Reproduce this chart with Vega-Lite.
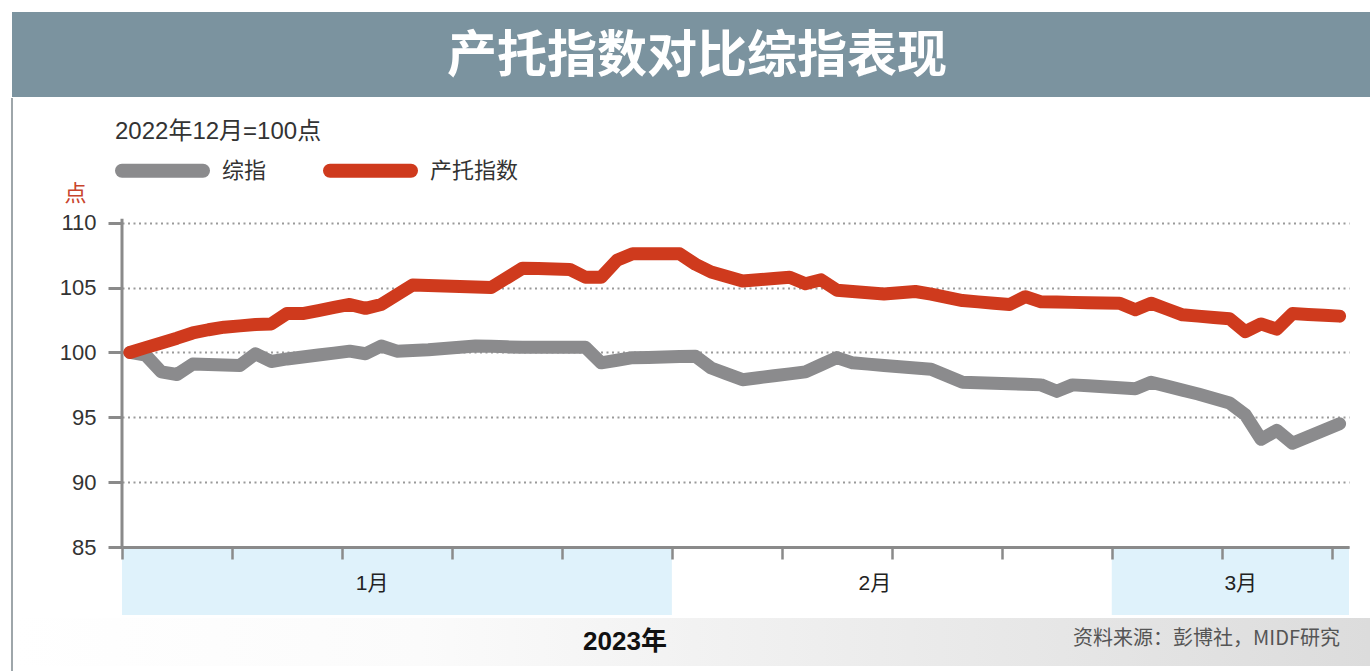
{
  "$schema": "https://vega.github.io/schema/vega-lite/v6.json",
  "padding": {"left": 10, "top": 12, "right": 0, "bottom": 0},
  "spacing": 0,
  "background": "white",
  "resolve": {"legend": {"color": "independent"}},
  "config": {
    "view": {"stroke": null},
    "font": "Liberation Sans, Noto Sans CJK SC, sans-serif",
    "concat": {"spacing": 0}
  },
  "vconcat": [
    {
      "width": 1358,
      "height": 85,
      "view": {"fill": "#7b939f", "stroke": null},
      "data": {"values": [{"title": "产托指数对比综指表现"}]},
      "mark": {"type": "text", "font": "Noto Sans CJK SC", "fontSize": 50, "fontWeight": "bold", "color": "#ffffff", "dx": 6, "dy": 2},
      "encoding": {"text": {"field": "title"}}
    },
    {
      "width": 1358,
      "height": 574,
      "layer": [
        {
          "data": {"values": [{}]},
          "mark": {"type": "rect", "color": {"gradient": "linear", "x1": 0, "x2": 1, "y1": 0, "y2": 0, "stops": [{"offset": 0, "color": "#ffffff"}, {"offset": 0.3, "color": "#fbfbfb"}, {"offset": 1, "color": "#dcdcdc"}]}},
          "encoding": {
            "y": {"datum": 79.528, "type": "quantitative", "scale": {"domain": [75.366, 119.615], "nice": false, "zero": false}},
            "y2": {"datum": 75.829}
          }
        },
        {
          "data": {"values": [
            {"month": "1月", "start": "2022-12-27T12:00:00Z", "end": "2023-01-31T12:00:00Z"},
            {"month": "2月", "start": "2023-01-31T12:00:00Z", "end": "2023-02-28T12:00:00Z"},
            {"month": "3月", "start": "2023-02-28T12:00:00Z", "end": "2023-03-15T14:24:00Z"}
          ]},
          "transform": [{"filter": "datum.month !== '2月'"}],
          "mark": {"type": "rect", "color": "#dff2fb"},
          "encoding": {
            "x": {"field": "start", "type": "temporal", "scale": {"type": "utc", "range": [110, 1337], "domain": [{"year": 2022, "month": 12, "date": 27, "hours": 12, "utc": true}, {"year": 2023, "month": 3, "date": 15, "hours": 14, "minutes": 24, "utc": true}]}},
            "x2": {"field": "end"},
            "y": {"datum": 84.85, "type": "quantitative"},
            "y2": {"datum": 79.769}
          }
        },
        {
          "data": {"values": [
            {"month": "1月", "label_date": "2023-01-12T10:00:00Z"},
            {"month": "2月", "label_date": "2023-02-13T10:00:00Z"},
            {"month": "3月", "label_date": "2023-03-08T17:00:00Z"}
          ]},
          "mark": {"type": "text", "fontSize": 21, "color": "#222222", "font": "Liberation Sans, Noto Sans CJK SC"},
          "encoding": {
            "x": {"field": "label_date", "type": "temporal"},
            "y": {"datum": 82.15, "type": "quantitative"},
            "text": {"field": "month"}
          }
        },
        {
          "data": {"values": [{"label": "2023年"}]},
          "mark": {"type": "text", "fontSize": 26, "fontWeight": "bold", "color": "#111111", "dx": -66},
          "encoding": {
            "y": {"datum": 77.68, "type": "quantitative"},
            "text": {"field": "label"}
          }
        },
        {
          "data": {"values": [{"label": "资料来源：彭博社，MIDF研究"}]},
          "mark": {"type": "text", "fontSize": 20, "color": "#555555", "align": "right", "dx": 649, "font": "Noto Sans CJK SC"},
          "encoding": {
            "y": {"datum": 77.9, "type": "quantitative"},
            "text": {"field": "label"}
          }
        },
        {
          "data": {"values": [{}]},
          "mark": {"type": "rule", "color": "#8a8a8a", "strokeWidth": 3},
          "encoding": {
            "x": {"datum": {"year": 2022, "month": 12, "date": 27, "hours": 12, "utc": true}, "type": "temporal"},
            "y": {"datum": 85, "type": "quantitative"},
            "y2": {"datum": 110.3}
          }
        },
        {
          "data": {"values": [
            {"date": "2022-12-28", "综指": 100.0, "产托指数": 100.0},
            {"date": "2022-12-29", "综指": 99.8, "产托指数": 100.37},
            {"date": "2022-12-30", "综指": 98.5, "产托指数": 100.73},
            {"date": "2022-12-31", "综指": 98.3, "产托指数": 101.1},
            {"date": "2023-01-01", "综指": 99.1, "产托指数": 101.5},
            {"date": "2023-01-02", "综指": 99.07, "产托指数": 101.75},
            {"date": "2023-01-03", "综指": 99.03, "产托指数": 101.95},
            {"date": "2023-01-04", "综指": 99.0, "产托指数": 102.05},
            {"date": "2023-01-05", "综指": 99.9, "产托指数": 102.15},
            {"date": "2023-01-06", "综指": 99.3, "产托指数": 102.2},
            {"date": "2023-01-07", "综指": 99.5, "产托指数": 103.0},
            {"date": "2023-01-08", "综指": 99.65, "产托指数": 103.0},
            {"date": "2023-01-09", "综指": 99.8, "产托指数": 103.23},
            {"date": "2023-01-10", "综指": 99.95, "产托指数": 103.47},
            {"date": "2023-01-11", "综指": 100.1, "产托指数": 103.7},
            {"date": "2023-01-12", "综指": 99.9, "产托指数": 103.4},
            {"date": "2023-01-13", "综指": 100.5, "产托指数": 103.7},
            {"date": "2023-01-14", "综指": 100.1, "产托指数": 104.45},
            {"date": "2023-01-15", "综指": 100.15, "产托指数": 105.2},
            {"date": "2023-01-16", "综指": 100.2, "产托指数": 105.16},
            {"date": "2023-01-17", "综指": 100.3, "产托指数": 105.12},
            {"date": "2023-01-18", "综指": 100.4, "产托指数": 105.08},
            {"date": "2023-01-19", "综指": 100.5, "产托指数": 105.04},
            {"date": "2023-01-20", "综指": 100.47, "产托指数": 105.0},
            {"date": "2023-01-21", "综指": 100.43, "产托指数": 105.75},
            {"date": "2023-01-22", "综指": 100.4, "产托指数": 106.5},
            {"date": "2023-01-23", "综指": 100.4, "产托指数": 106.47},
            {"date": "2023-01-24", "综指": 100.4, "产托指数": 106.43},
            {"date": "2023-01-25", "综指": 100.4, "产托指数": 106.4},
            {"date": "2023-01-26", "综指": 100.4, "产托指数": 105.8},
            {"date": "2023-01-27", "综指": 99.2, "产托指数": 105.8},
            {"date": "2023-01-28", "综指": 99.4, "产托指数": 107.1},
            {"date": "2023-01-29", "综指": 99.6, "产托指数": 107.6},
            {"date": "2023-01-30", "综指": 99.62, "产托指数": 107.6},
            {"date": "2023-01-31", "综指": 99.65, "产托指数": 107.6},
            {"date": "2023-02-01", "综指": 99.68, "产托指数": 107.6},
            {"date": "2023-02-02", "综指": 99.7, "产托指数": 106.8},
            {"date": "2023-02-03", "综指": 98.8, "产托指数": 106.2},
            {"date": "2023-02-04", "综指": 98.35, "产托指数": 105.85},
            {"date": "2023-02-05", "综指": 97.9, "产托指数": 105.5},
            {"date": "2023-02-06", "综指": 98.05, "产托指数": 105.6},
            {"date": "2023-02-07", "综指": 98.2, "产托指数": 105.7},
            {"date": "2023-02-08", "综指": 98.35, "产托指数": 105.8},
            {"date": "2023-02-09", "综指": 98.5, "产托指数": 105.3},
            {"date": "2023-02-10", "综指": 99.05, "产托指数": 105.6},
            {"date": "2023-02-11", "综指": 99.6, "产托指数": 104.8},
            {"date": "2023-02-12", "综指": 99.2, "产托指数": 104.7},
            {"date": "2023-02-13", "综指": 99.1, "产托指数": 104.6},
            {"date": "2023-02-14", "综指": 99.0, "产托指数": 104.5},
            {"date": "2023-02-15", "综指": 98.9, "产托指数": 104.6},
            {"date": "2023-02-16", "综指": 98.8, "产托指数": 104.7},
            {"date": "2023-02-17", "综指": 98.7, "产托指数": 104.5},
            {"date": "2023-02-18", "综指": 98.2, "产托指数": 104.25},
            {"date": "2023-02-19", "综指": 97.7, "产托指数": 104.0},
            {"date": "2023-02-20", "综指": 97.66, "产托指数": 103.9},
            {"date": "2023-02-21", "综指": 97.62, "产托指数": 103.8},
            {"date": "2023-02-22", "综指": 97.58, "产托指数": 103.7},
            {"date": "2023-02-23", "综指": 97.54, "产托指数": 104.3},
            {"date": "2023-02-24", "综指": 97.5, "产托指数": 103.9},
            {"date": "2023-02-25", "综指": 97.0, "产托指数": 103.88},
            {"date": "2023-02-26", "综指": 97.5, "产托指数": 103.86},
            {"date": "2023-02-27", "综指": 97.43, "产托指数": 103.84},
            {"date": "2023-02-28", "综指": 97.35, "产托指数": 103.82},
            {"date": "2023-03-01", "综指": 97.28, "产托指数": 103.8},
            {"date": "2023-03-02", "综指": 97.2, "产托指数": 103.3},
            {"date": "2023-03-03", "综指": 97.7, "产托指数": 103.8},
            {"date": "2023-03-04", "综指": 97.4, "产托指数": 103.35},
            {"date": "2023-03-05", "综指": 97.1, "产托指数": 102.9},
            {"date": "2023-03-06", "综指": 96.8, "产托指数": 102.8},
            {"date": "2023-03-07", "综指": 96.45, "产托指数": 102.7},
            {"date": "2023-03-08", "综指": 96.1, "产托指数": 102.6},
            {"date": "2023-03-09", "综指": 95.2, "产托指数": 101.6},
            {"date": "2023-03-10", "综指": 93.3, "产托指数": 102.2},
            {"date": "2023-03-11", "综指": 94.0, "产托指数": 101.8},
            {"date": "2023-03-12", "综指": 93.0, "产托指数": 103.0},
            {"date": "2023-03-13", "综指": 93.5, "产托指数": 102.93},
            {"date": "2023-03-14", "综指": 94.0, "产托指数": 102.87},
            {"date": "2023-03-15", "综指": 94.5, "产托指数": 102.8}
          ]},
          "transform": [{"fold": ["综指", "产托指数"], "as": ["series", "value"]}],
          "mark": {"type": "line", "strokeWidth": 13, "strokeCap": "round", "strokeJoin": "round"},
          "encoding": {
            "x": {
              "field": "date", "type": "temporal",
              "scale": {"type": "utc", "range": [110, 1337], "domain": [{"year": 2022, "month": 12, "date": 27, "hours": 12, "utc": true}, {"year": 2023, "month": 3, "date": 15, "hours": 14, "minutes": 24, "utc": true}]},
              "axis": {
                "orient": "bottom", "offset": -125, "zindex": 1,
                "values": [
                  {"year": 2022, "month": 12, "date": 27, "hours": 12, "utc": true},
                  {"year": 2023, "month": 1, "date": 3, "hours": 12, "utc": true},
                  {"year": 2023, "month": 1, "date": 10, "hours": 12, "utc": true},
                  {"year": 2023, "month": 1, "date": 17, "hours": 12, "utc": true},
                  {"year": 2023, "month": 1, "date": 24, "hours": 12, "utc": true},
                  {"year": 2023, "month": 1, "date": 31, "hours": 12, "utc": true},
                  {"year": 2023, "month": 2, "date": 7, "hours": 12, "utc": true},
                  {"year": 2023, "month": 2, "date": 14, "hours": 12, "utc": true},
                  {"year": 2023, "month": 2, "date": 21, "hours": 12, "utc": true},
                  {"year": 2023, "month": 2, "date": 28, "hours": 12, "utc": true},
                  {"year": 2023, "month": 3, "date": 7, "hours": 12, "utc": true},
                  {"year": 2023, "month": 3, "date": 14, "hours": 12, "utc": true}
                ],
                "labels": false, "ticks": true, "tickSize": 12, "tickWidth": 2.5, "tickColor": "#8a8a8a",
                "domain": true, "domainColor": "#8a8a8a", "domainWidth": 3,
                "grid": false, "title": null
              }
            },
            "y": {
              "field": "value", "type": "quantitative",
              "scale": {"domain": [75.366, 119.615], "nice": false, "zero": false},
              "axis": {
                "offset": -110,
                "values": [85, 90, 95, 100, 105, 110],
                "domain": false,
                "grid": true, "gridColor": "#9a9a9a", "gridDash": [2, 3.5], "gridWidth": 2,
                "ticks": true, "tickSize": 14, "tickWidth": 3, "tickColor": "#8a8a8a",
                "labelFontSize": 22, "labelColor": "#333333", "labelPadding": 12, "labelFont": "Liberation Sans",
                "title": "点", "titleAngle": 0, "titleX": -47, "titleY": 95,
                "titleColor": "#c8442c", "titleFontSize": 22, "titleFontWeight": "normal",
                "titleFont": "Noto Sans CJK SC", "titleAlign": "center", "titleBaseline": "middle"
              }
            },
            "color": {
              "field": "series", "type": "nominal",
              "scale": {"domain": ["综指", "产托指数"], "range": ["#8b8b8d", "#cf3a1d"]},
              "legend": {
                "orient": "none", "legendX": 103, "legendY": 22, "direction": "horizontal",
                "title": "2022年12月=100点", "titleFontSize": 24, "titleColor": "#333333", "titleLimit": 500,
                "titleFontWeight": "normal", "titlePadding": -21, "titleFont": "Liberation Sans, Noto Sans CJK SC",
                "labelFontSize": 22, "labelColor": "#333333", "labelFont": "Noto Sans CJK SC",
                "symbolType": "stroke", "symbolSize": 6561, "symbolStrokeWidth": 14,
                "labelOffset": 12, "columnPadding": 35, "padding": 0,
                "encode": {"symbols": {"update": {"strokeCap": {"value": "round"}}}}
              }
            }
          }
        },
        {
          "data": {"values": [{}]},
          "mark": {"type": "rule", "color": "#9ea6aa", "strokeWidth": 2},
          "encoding": {
            "x": {"datum": {"year": 2022, "month": 12, "date": 20, "hours": 11, "minutes": 57, "utc": true}, "type": "temporal"},
            "y": {"datum": 119.615, "type": "quantitative"},
            "y2": {"datum": 75.366}
          }
        }
      ]
    }
  ]
}
